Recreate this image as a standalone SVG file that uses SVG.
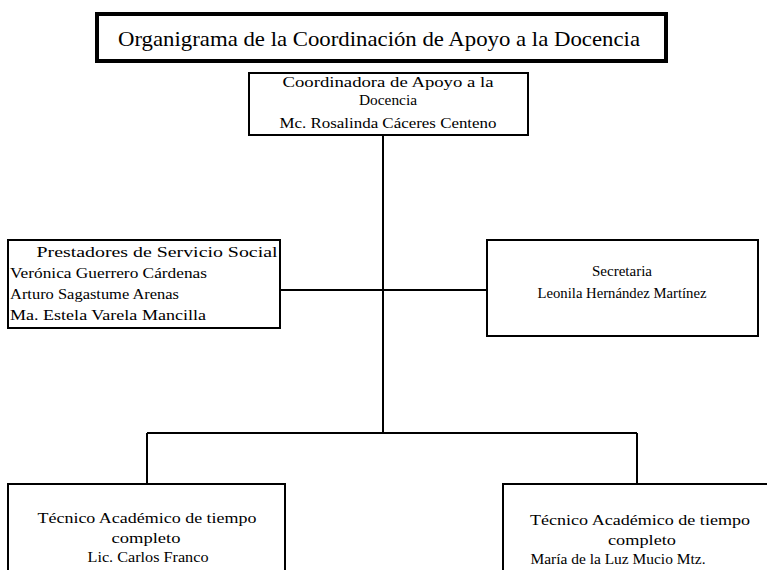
<svg xmlns="http://www.w3.org/2000/svg" width="767" height="570" viewBox="0 0 767 570">
<style>
.box{fill:#fff;stroke:#000;stroke-width:2}
.ln{stroke:#000;stroke-width:2;fill:none}
text{font-family:"Liberation Serif","DejaVu Serif",serif;fill:#000;font-size:15px;lengthAdjust:spacingAndGlyphs}
.c{text-anchor:middle}
.s{font-size:14px}
.t{font-size:21px}
</style>
<rect width="767" height="570" fill="#fff"/>
<g id="connectors">
<line class="ln" x1="383" y1="135" x2="383" y2="433"/>
<line class="ln" x1="280" y1="290" x2="487" y2="290"/>
<line class="ln" x1="147" y1="433" x2="637" y2="433"/>
<line class="ln" x1="147" y1="433" x2="147" y2="484"/>
<line class="ln" x1="637" y1="433" x2="637" y2="484"/>
</g>
<g id="title">
<rect x="97" y="14" width="569" height="47" fill="#fff" stroke="#000" stroke-width="4"/>
<text class="t" x="118" y="46" textLength="522" lengthAdjust="spacingAndGlyphs">Organigrama de la Coordinación de Apoyo a la Docencia</text>
</g>
<g id="coordinadora">
<rect class="box" x="249" y="73" width="279" height="62"/>
<text class="c" x="388" y="87" textLength="211" lengthAdjust="spacingAndGlyphs">Coordinadora de Apoyo a la</text>
<text class="c" x="388" y="105" textLength="58" lengthAdjust="spacingAndGlyphs">Docencia</text>
<text class="c" x="388" y="128" textLength="217" lengthAdjust="spacingAndGlyphs">Mc. Rosalinda Cáceres Centeno</text>
</g>
<g id="prestadores">
<rect class="box" x="8" y="240" width="272" height="88"/>
<text class="c" x="157" y="257" textLength="241" lengthAdjust="spacingAndGlyphs">Prestadores de Servicio Social</text>
<text x="10" y="278" textLength="197" lengthAdjust="spacingAndGlyphs">Verónica Guerrero Cárdenas</text>
<text x="10" y="299" textLength="169" lengthAdjust="spacingAndGlyphs">Arturo Sagastume Arenas</text>
<text x="10" y="320" textLength="196" lengthAdjust="spacingAndGlyphs">Ma. Estela Varela Mancilla</text>
</g>
<g id="secretaria">
<rect class="box" x="487" y="240" width="271" height="96"/>
<text class="c s" x="622" y="276" textLength="60" lengthAdjust="spacingAndGlyphs">Secretaria</text>
<text class="c s" x="622" y="298" textLength="169" lengthAdjust="spacingAndGlyphs">Leonila Hernández Martínez</text>
</g>
<g id="tecnico1">
<rect class="box" x="8" y="484" width="277" height="100"/>
<text class="c" x="147" y="523" textLength="219" lengthAdjust="spacingAndGlyphs">Técnico Académico de tiempo</text>
<text class="c" x="146" y="543" textLength="69" lengthAdjust="spacingAndGlyphs">completo</text>
<text class="c" x="148" y="562" textLength="121" lengthAdjust="spacingAndGlyphs">Lic. Carlos Franco</text>
</g>
<g id="tecnico2">
<rect class="box" x="503" y="484" width="280" height="100"/>
<text class="c" x="640" y="525" textLength="220" lengthAdjust="spacingAndGlyphs">Técnico Académico de tiempo</text>
<text class="c" x="642" y="545" textLength="68" lengthAdjust="spacingAndGlyphs">completo</text>
<text class="c" x="618" y="564" textLength="175" lengthAdjust="spacingAndGlyphs">María de la Luz Mucio Mtz.</text>
</g>
</svg>
